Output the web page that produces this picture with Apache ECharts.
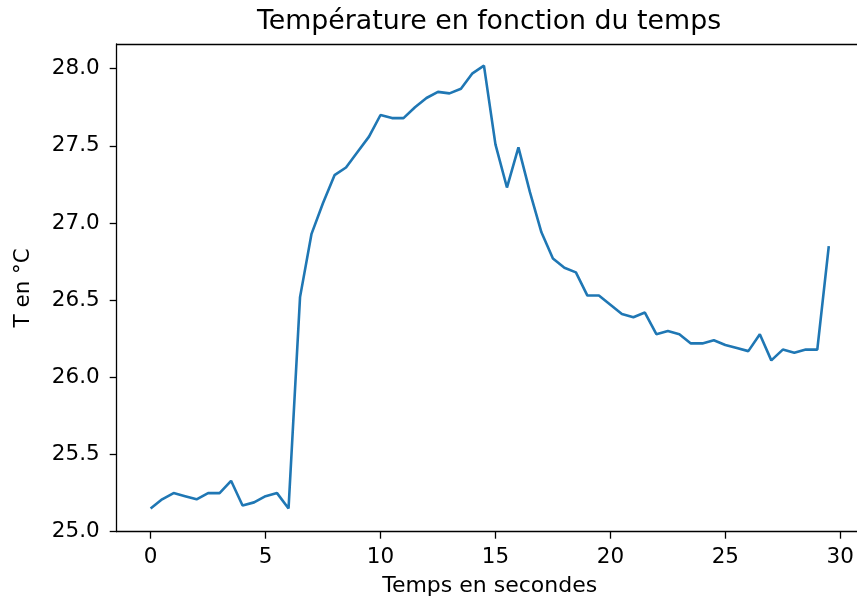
<!DOCTYPE html>
<html>
<head>
<meta charset="utf-8">
<script src="https://cdn.jsdelivr.net/npm/echarts@6/dist/echarts.min.js"></script>
<style>
  html, body { margin: 0; padding: 0; background: #fff; }
  #chart { width: 857px; height: 603px; }
</style>
</head>
<body>
<div id="chart"></div>
<script>
const titleText = 'Température en fonction du temps';
const xLabel = 'Temps en secondes';
const yLabel = 'T en °C';

const times = [0, 0.5, 1, 1.5, 2, 2.5, 3, 3.5, 4, 4.5,
  5, 5.5, 6, 6.5, 7, 7.5, 8, 8.5, 9, 9.5,
  10, 10.5, 11, 11.5, 12, 12.5, 13, 13.5, 14, 14.5,
  15, 15.5, 16, 16.5, 17, 17.5, 18, 18.5, 19, 19.5,
  20, 20.5, 21, 21.5, 22, 22.5, 23, 23.5, 24, 24.5,
  25, 25.5, 26, 26.5, 27, 27.5, 28, 28.5, 29, 29.5];

const temps = [25.15, 25.21, 25.25, 25.23, 25.21, 25.25, 25.25, 25.33, 25.17, 25.19,
  25.23, 25.25, 25.15, 26.52, 26.93, 27.13, 27.31, 27.36, 27.46, 27.56,
  27.70, 27.68, 27.68, 27.75, 27.81, 27.85, 27.84, 27.87, 27.97, 28.02,
  27.51, 27.23, 27.49, 27.20, 26.94, 26.77, 26.71, 26.68, 26.53, 26.53,
  26.47, 26.41, 26.39, 26.42, 26.28, 26.30, 26.28, 26.22, 26.22, 26.24,
  26.21, 26.19, 26.17, 26.28, 26.11, 26.18, 26.16, 26.18, 26.18, 26.85];

const xTicks = [0, 5, 10, 15, 20, 25, 30];
const yTicks = [25.0, 25.5, 26.0, 26.5, 27.0, 27.5, 28.0];

const font = 'DejaVu Sans';
const chart = echarts.init(document.getElementById('chart'), null, { renderer: 'canvas' });

const spine = { show: true, onZero: false, lineStyle: { color: '#000', width: 1.3 } };

chart.setOption({
  animation: false,
  backgroundColor: '#ffffff',
  title: {
    text: titleText,
    left: 489,
    textAlign: 'center',
    top: 9,
    padding: 0,
    textStyle: { fontFamily: font, fontSize: 26.8, fontWeight: 'normal', color: '#000' }
  },
  grid: {
    left: 116.7,
    top: 44,
    width: 746,
    bottom: 71.3,
    outerBoundsMode: 'none',
    containLabel: false,
    show: false
  },
  xAxis: [{
    type: 'value',
    position: 'bottom',
    min: -1.475,
    max: 30.975,
    name: xLabel,
    nameLocation: 'middle',
    nameGap: 44,
    nameTextStyle: { fontFamily: font, fontSize: 22, color: '#000' },
    axisLine: spine,
    axisTick: { show: true, length: 7, customValues: xTicks, lineStyle: { color: '#000', width: 1.3 } },
    axisLabel: { customValues: xTicks, margin: 15, fontFamily: font, fontSize: 21.5, color: '#000',
      formatter: v => String(v) },
    splitLine: { show: false }
  }, {
    type: 'value',
    position: 'top',
    min: -1.475,
    max: 30.975,
    axisLine: spine,
    axisTick: { show: false },
    axisLabel: { show: false },
    splitLine: { show: false }
  }],
  yAxis: {
    type: 'value',
    min: 25.0,
    max: 28.16,
    name: yLabel,
    nameLocation: 'middle',
    nameRotate: 90,
    nameGap: 82,
    nameTextStyle: { fontFamily: font, fontSize: 21.5, color: '#000' },
    axisLine: spine,
    axisTick: { show: true, length: 7, customValues: yTicks, lineStyle: { color: '#000', width: 1.3 } },
    axisLabel: { customValues: yTicks, margin: 17, fontFamily: font, fontSize: 21.5, color: '#000',
      formatter: v => Number(v).toFixed(1) },
    splitLine: { show: false }
  },
  series: [{
    type: 'line',
    xAxisIndex: 0,
    data: times.map((t, i) => [t, temps[i]]),
    showSymbol: false,
    symbol: 'none',
    lineStyle: { color: '#1f77b4', width: 2.6 },
    itemStyle: { color: '#1f77b4' }
  }]
});
</script>
</body>
</html>
